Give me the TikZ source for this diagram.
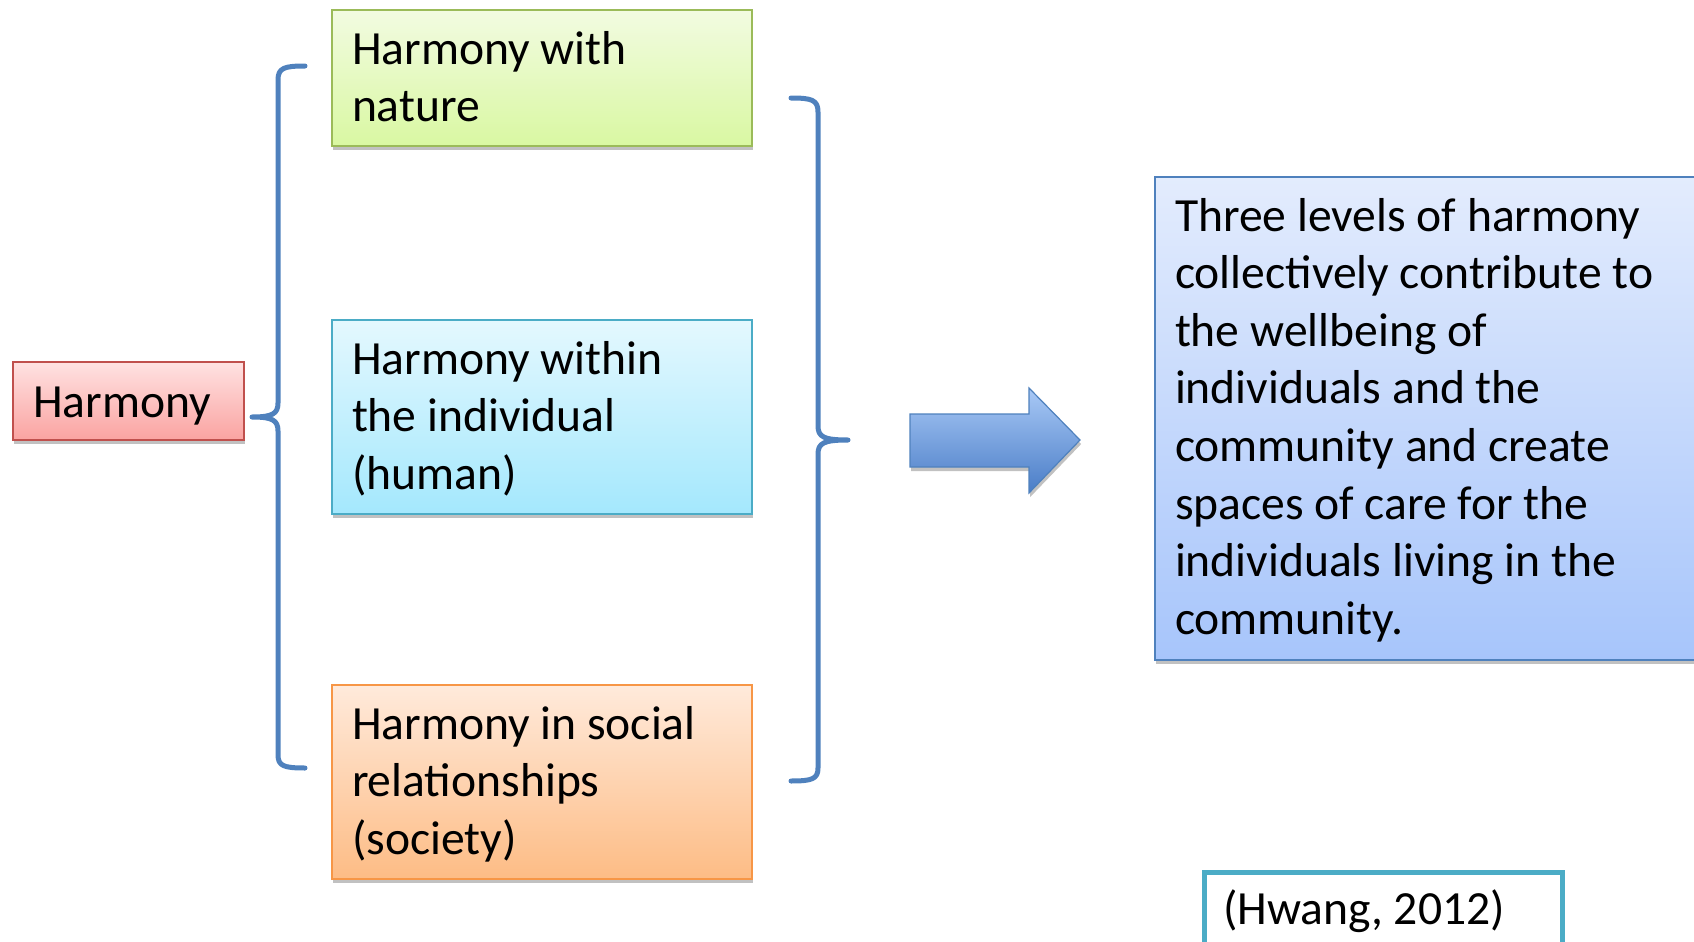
\documentclass[tikz,border=0pt]{standalone}
\usepackage{fontspec}
\setmainfont{Carlito}
\usetikzlibrary{shadows}
\definecolor{grnT}{HTML}{F2FBE1}\definecolor{grnB}{HTML}{D9F8A2}\definecolor{grnD}{HTML}{9BBB59}
\definecolor{cyaT}{HTML}{E4F8FE}\definecolor{cyaB}{HTML}{A4E8FD}\definecolor{cyaD}{HTML}{4BACC6}
\definecolor{orgT}{HTML}{FFEADB}\definecolor{orgB}{HTML}{FDBC85}\definecolor{orgD}{HTML}{F79646}
\definecolor{redT}{HTML}{FFE2E2}\definecolor{redB}{HTML}{FAA3A1}\definecolor{redD}{HTML}{C0504D}
\definecolor{bluT}{HTML}{E3ECFD}\definecolor{bluB}{HTML}{A7C5FB}\definecolor{bluD}{HTML}{4F81BD}
\definecolor{arrT}{HTML}{A9C9F6}\definecolor{arrB}{HTML}{4A7DC7}
\definecolor{brk}{HTML}{4F81BD}
\tikzset{
  box/.style={draw, line width=1.1pt, inner sep=0pt, outer sep=0pt, anchor=north west,
    drop shadow={shadow xshift=0.6pt, shadow yshift=-2pt, opacity=0.35, fill=black!70}},
  txt/.style={anchor=base west, inner sep=0pt, outer sep=0pt, font=\fontsize{23.8}{28.8}\selectfont},
  brace/.style={draw=brk, line width=2.5pt, line cap=round, line join=round}
}
\newcommand{\lines}[1]{\parbox[t]{400pt}{\raggedright #1}}
\begin{document}
\begin{tikzpicture}[x=0.5pt,y=-0.5pt]
\useasboundingbox (0,0) rectangle (1694,942);
\clip (0,0) rectangle (1694,942);
% Harmony
\node[box, draw=redD, top color=redT, bottom color=redB, minimum width=115.5pt, minimum height=39pt] (harm) at (13,362) {};
\node[txt] (harmT) at (33,417) {Harmony};
% green
\node[box, draw=grnD, top color=grnT, bottom color=grnB, minimum width=210pt, minimum height=68pt] (nat) at (332,10) {};
\node[txt] (natT) at (352,64) {\lines{Harmony with\\nature}};
% cyan
\node[box, draw=cyaD, top color=cyaT, bottom color=cyaB, minimum width=210pt, minimum height=97pt] (ind) at (332,320) {};
\node[txt] (indT) at (352,374) {\lines{Harmony within\\the individual\\(human)}};
% orange
\node[box, draw=orgD, top color=orgT, bottom color=orgB, minimum width=210pt, minimum height=97pt] (soc) at (332,685) {};
\node[txt] (socT) at (352,739) {\lines{Harmony in social\\relationships\\(society)}};
% blue result
\node[box, draw=bluD, top color=bluT, bottom color=bluB, minimum width=280pt, minimum height=241.5pt] (res) at (1155,177) {};
\node[txt] (resT) at (1175,231) {\parbox[t]{400pt}{\raggedright\fontsize{23.8}{28.8}\selectfont Three levels of harmony\\collectively contribute to\\the wellbeing of\\individuals and the\\community and create\\spaces of care for the\\individuals living in the\\community.}};
% citation
\node[draw=cyaD, line width=2.4pt, fill=white, inner sep=0pt, anchor=north west, minimum width=179pt, minimum height=60pt] (cit) at (1202,870) {};
\node[txt] (citT) at (1223,924) {(Hwang, 2012)};
% left brace
\coordinate (lt) at (305,66);
\coordinate (lm) at (252,417);
\coordinate (lb) at (305,768);
\draw[brace] (lt) .. controls (284,66) and (278,68) .. (278,80) -- (278,403)
  .. controls (278,414) and (272,417) .. (lm)
  (lm) .. controls (272,417) and (278,420) .. (278,431) -- (278,755)
  .. controls (278,766) and (284,768) .. (lb);
% right brace
\coordinate (rt) at (791,98);
\coordinate (rm) at (848,440);
\coordinate (rb) at (791,781);
\draw[brace] (rt) .. controls (812,98) and (818,100) .. (818,112) -- (818,426)
  .. controls (818,437) and (824,440) .. (rm)
  (rm) .. controls (824,440) and (818,443) .. (818,454) -- (818,768)
  .. controls (818,779) and (812,781) .. (rb);
% block arrow
\path[draw=bluD, line width=0.6pt, top color=arrT, bottom color=arrB,
  drop shadow={shadow xshift=0.6pt, shadow yshift=-2pt, opacity=0.35, fill=black!70}]
  (910,414) -- (1029,414) -- (1029,388) -- (1080,440) -- (1029,493) -- (1029,467) -- (910,467) -- cycle;
\end{tikzpicture}
\end{document}
